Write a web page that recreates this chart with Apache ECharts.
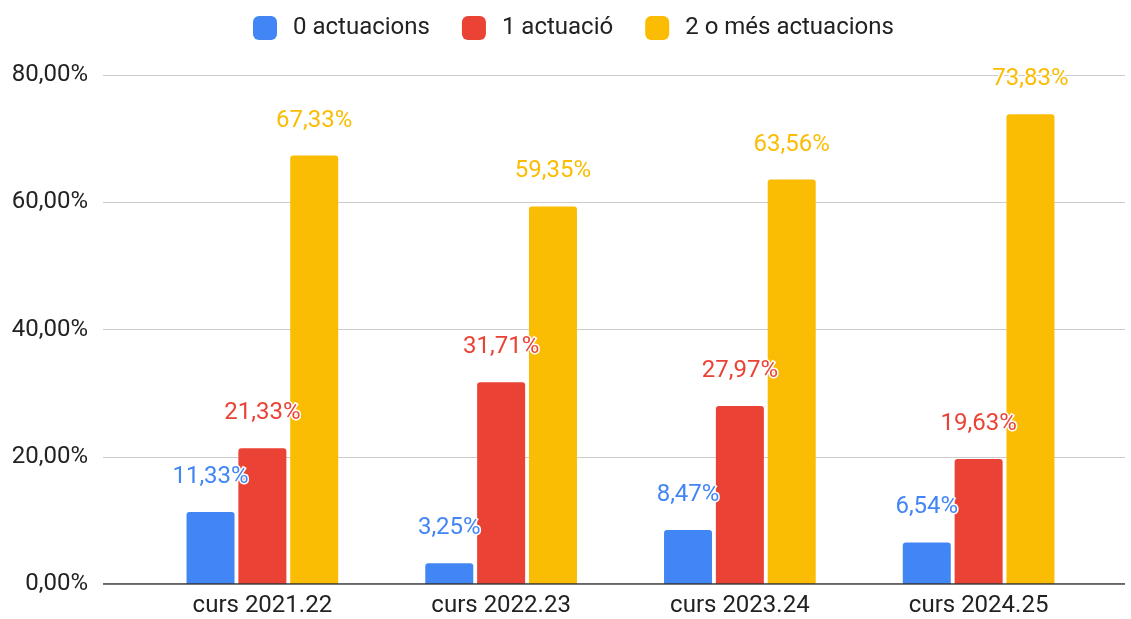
<!DOCTYPE html>
<html>
<head>
<meta charset="utf-8">
<script src="https://cdn.jsdelivr.net/npm/echarts@6/dist/echarts.min.js"></script>
<style>
  html, body { margin: 0; padding: 0; background: #fff; }
  #chart { width: 1131px; height: 619px; }
</style>
</head>
<body>
<div id="chart"></div>
<script>
// ===== 数据 =====
const categories = ['curs 2021.22', 'curs 2022.23', 'curs 2023.24', 'curs 2024.25']
const seriesNames = ['0 actuacions', '1 actuació', '2 o més actuacions']
const zeroActs = [11.33, 3.25, 8.47, 6.54]
const oneAct = [21.33, 31.71, 27.97, 19.63]
const twoPlus = [67.33, 59.35, 63.56, 73.83]
const colors = ['#4285F4', '#EA4335', '#FBBC04']

const fmt = (v) => v.toFixed(2).replace('.', ',') + '%'
const FONT = 'Roboto, "Noto Sans", sans-serif'

const chart = echarts.init(document.getElementById('chart'))

const mkSeries = (name, data, color) => ({
  name,
  type: 'bar',
  data,
  barWidth: 48,
  barGap: '8%',
  itemStyle: { color, borderRadius: [3, 3, 0, 0] },
  label: {
    show: true,
    position: 'top',
    distance: 23,
    color,
    fontSize: 24,
    fontFamily: FONT,
    textBorderColor: '#fff',
    textBorderWidth: 3,
    formatter: (p) => fmt(p.value),
  },
})

chart.setOption({
  animation: false,
  textStyle: { fontFamily: FONT },
  legend: {
    top: 11,
    left: 248,
    icon: 'roundRect',
    itemWidth: 24,
    itemHeight: 24,
    itemGap: 32,
    textStyle: { fontSize: 24, color: '#222', fontFamily: FONT, padding: [0, 0, 0, 11] },
    data: seriesNames,
  },
  grid: [
    // 主绘图区
    { left: 143, right: 33, top: 75, bottom: 35 },
    // 仅用于网格线（更宽）
    { left: 103, right: 6, top: 75, bottom: 35 },
  ],
  xAxis: [
    {
      type: 'category',
      gridIndex: 0,
      data: categories,
      axisTick: { show: false },
      axisLine: { show: false },
      axisLabel: { fontSize: 24, color: '#222', margin: 10, fontFamily: FONT },
    },
    {
      type: 'value',
      gridIndex: 1,
      show: false,
      min: 0, max: 1,
    },
  ],
  yAxis: [
    {
      type: 'value',
      gridIndex: 0,
      min: 0, max: 80, interval: 20,
      axisLabel: { show: false },
      splitLine: { show: false },
      axisLine: { show: false },
      axisTick: { show: false },
    },
    {
      type: 'value',
      gridIndex: 1,
      min: 0, max: 80, interval: 20,
      axisLabel: {
        fontSize: 24, color: '#222', margin: 15, fontFamily: FONT,
        formatter: (v) => fmt(v),
      },
      splitLine: { lineStyle: { color: '#cccccc', width: 1 } },
      axisLine: { show: false },
      axisTick: { show: false },
    },
  ],
  series: [
    mkSeries(seriesNames[0], zeroActs, colors[0]),
    mkSeries(seriesNames[1], oneAct, colors[1]),
    mkSeries(seriesNames[2], twoPlus, colors[2]),
    // 底部轴线
    {
      type: 'line',
      xAxisIndex: 1,
      yAxisIndex: 1,
      data: [[0, 0], [1, 0]],
      symbol: 'none',
      silent: true,
      lineStyle: { color: '#333', width: 1.5 },
      z: 5,
    },
  ],
})
</script>
</body>
</html>
